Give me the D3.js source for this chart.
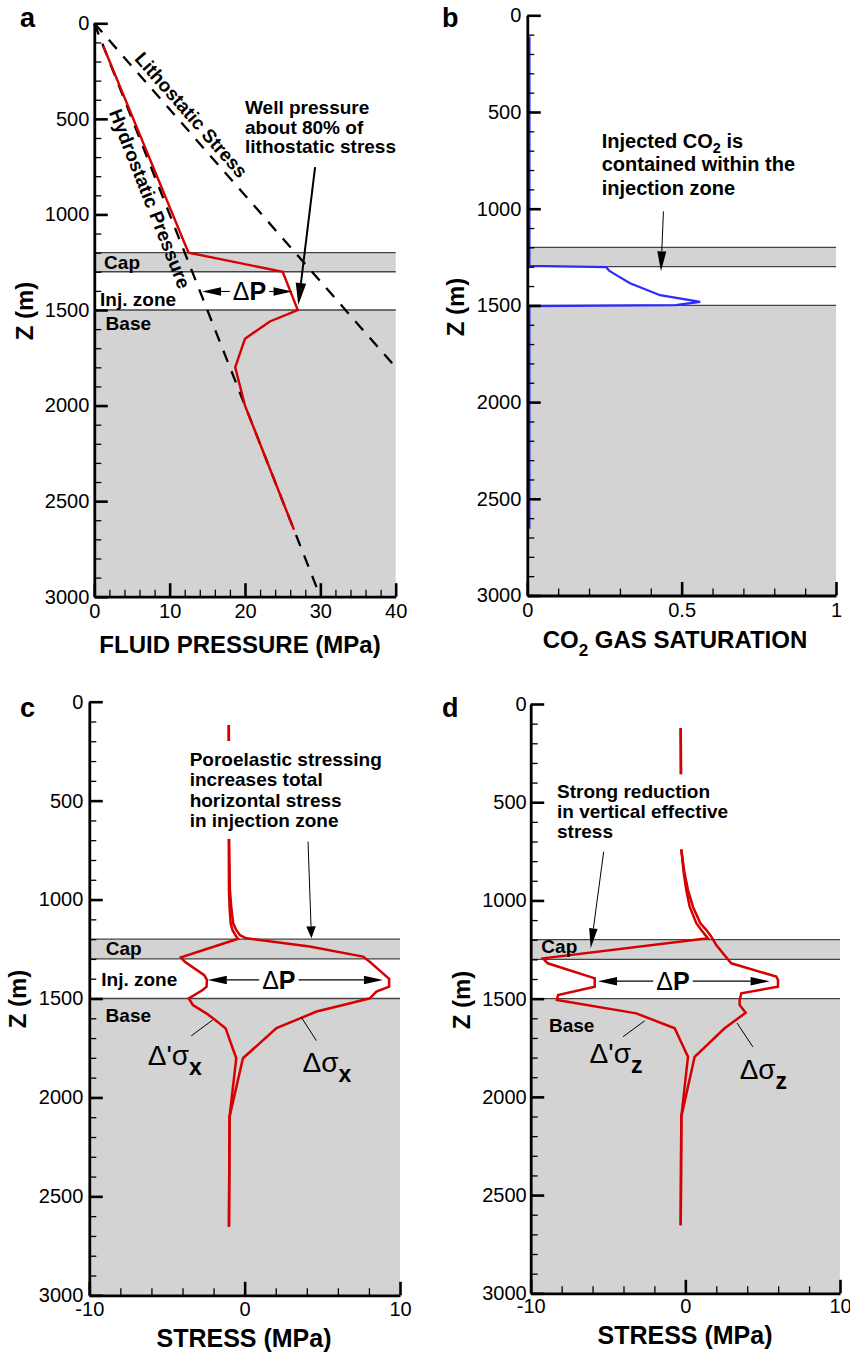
<!DOCTYPE html>
<html>
<head>
<meta charset="utf-8">
<script src="https://cdn.jsdelivr.net/npm/d3@7/dist/d3.min.js"></script>
<style>
  body { margin: 0; background: #fff; }
  svg { font-family: "Liberation Sans", Arial, Helvetica, sans-serif; }
</style>
</head>
<body>
<svg id="fig" width="850" height="1355"></svg>
<script>
// ---------------- data ----------------
var depthTicks = [0, 500, 1000, 1500, 2000, 2500, 3000];
var pressureTicks = [0, 10, 20, 30, 40];
var saturationTicks = [0, 0.5, 1];
var stressTicks = [-10, 0, 10];

// layers (m)
var capTop = 1200, capBottom = 1300, baseTop = 1500, modelBottom = 3000;

// (a) fluid pressure, MPa vs depth
var hydroZ = [0, 3000];
var hydroP = [0, 30];
var lithoZ = [0, 1800];
var lithoP = [0, 40];
var wellZ = [120, 1200, 1300, 1400, 1500, 1560, 1650, 1800, 2000, 2650];
var wellP = [1.2, 12.5, 25.0, 26.0, 27.0, 23.3, 20.0, 18.7, 20.0, 26.5];

// (b) CO2 gas saturation
var satZ = [110, 1295, 1302, 1320, 1345, 1385, 1447, 1482, 1499, 1504, 2655];
var satS = [0.007, 0.007, 0.255, 0.265, 0.29, 0.333, 0.43, 0.56, 0.48, 0.007, 0.007];

// (c) horizontal stress change, MPa
var sxEffZ = [118, 700, 950, 1040, 1120, 1155, 1185, 1198, 1292, 1315, 1382, 1406, 1440, 1457, 1499, 1533, 1575, 1600, 1650, 1802, 2097, 2653];
var sxEffV = [-1.02, -1.02, -1.01, -0.97, -0.9, -0.78, -0.55, -0.42, -4.1, -3.85, -2.6, -2.43, -2.45, -2.7, -3.6, -3.33, -2.47, -2.04, -1.23, -0.54, -0.97, -1.01];
var sxTotZ = [118, 700, 950, 1040, 1120, 1155, 1180, 1196, 1237, 1288, 1314, 1373, 1400, 1440, 1465, 1499, 1533, 1566, 1650, 1802, 2097, 2653];
var sxTotV = [-1.02, -1.0, -0.95, -0.86, -0.74, -0.53, -0.3, 0.1, 4.18, 7.62, 8.05, 8.9, 9.3, 9.3, 8.48, 8.06, 6.34, 4.63, 2.05, -0.11, -0.97, -1.01];

// (d) vertical stress change, MPa
var szEffZ = [124, 743, 862, 947, 1032, 1116, 1151, 1193, 1295, 1320, 1388, 1397, 1439, 1482, 1507, 1575, 1651, 1796, 2101, 2653];
var szEffV = [-0.3, -0.26, -0.1, 0.06, 0.28, 0.71, 1.03, 1.46, -9.2, -8.9, -6.2, -5.86, -5.86, -8.23, -8.3, -3.17, -0.69, 0.17, -0.26, -0.3];
var szTotZ = [124, 743, 862, 947, 1032, 1116, 1151, 1185, 1227, 1269, 1320, 1388, 1405, 1439, 1473, 1507, 1532, 1572, 1651, 1796, 2101, 2653];
var szTotV = [-0.3, -0.26, -0.05, 0.17, 0.49, 0.97, 1.36, 1.68, 2.0, 2.43, 2.97, 5.88, 5.99, 5.99, 3.62, 3.51, 3.51, 3.9, 2.54, 0.6, -0.26, -0.3];

// ---------------- styles ----------------
var GRAY = "#d3d3d3", RED = "#d60000", BLUE = "#2b2bff", INK = "#000";

var svg = d3.select("#fig");

function minorValues(domain, step, majors) {
  var out = [];
  for (var v = domain[0]; v <= domain[1] + 1e-9; v += step) {
    var r = Math.round(v * 1000) / 1000;
    if (!majors.some(m => Math.abs(m - r) < 1e-9)) out.push(r);
  }
  return out;
}

function makePanel(o) {
  var g = svg.append("g");
  var x = d3.scaleLinear().domain(o.xDomain).range([o.left, o.right]);
  var y = d3.scaleLinear().domain([0, modelBottom]).range([o.top, o.bottom]);

  // shaded layers
  g.append("rect").attr("x", o.left).attr("y", y(capTop))
    .attr("width", o.right - o.left).attr("height", y(capBottom) - y(capTop))
    .attr("fill", GRAY);
  g.append("rect").attr("x", o.left).attr("y", y(baseTop))
    .attr("width", o.right - o.left).attr("height", y(modelBottom) - y(baseTop))
    .attr("fill", GRAY);
  [capTop, capBottom, baseTop].forEach(function(z) {
    g.append("line").attr("x1", o.left).attr("x2", o.right)
      .attr("y1", y(z)).attr("y2", y(z))
      .attr("stroke", "#444").attr("stroke-width", 1.3);
  });
  return { g: g, x: x, y: y, o: o };
}

function drawAxes(p, xTicks, xMinorStep, xPad, yPad) {
  var o = p.o, g = p.g;
  var fmt = d => String(d);

  // minor ticks
  g.append("g").attr("transform", `translate(${o.left},0)`)
    .call(d3.axisLeft(p.y).tickValues(minorValues([0, 3000], 100, depthTicks))
      .tickSize(-7).tickSizeOuter(0).tickFormat(""))
    .call(a => a.select(".domain").remove())
    .call(a => a.selectAll("line").attr("stroke", INK).attr("stroke-width", 1.3));
  g.append("g").attr("transform", `translate(0,${o.bottom})`)
    .call(d3.axisBottom(p.x).tickValues(minorValues(o.xDomain, xMinorStep, xTicks))
      .tickSize(-7).tickSizeOuter(0).tickFormat(""))
    .call(a => a.select(".domain").remove())
    .call(a => a.selectAll("line").attr("stroke", INK).attr("stroke-width", 1.3));

  // major ticks + labels
  var yAxis = g.append("g").attr("transform", `translate(${o.left},0)`)
    .call(d3.axisLeft(p.y).tickValues(depthTicks).tickSize(-13.5).tickSizeOuter(0)
      .tickPadding(yPad).tickFormat(fmt));
  var xAxis = g.append("g").attr("transform", `translate(0,${o.bottom})`)
    .call(d3.axisBottom(p.x).tickValues(xTicks).tickSize(-13.5).tickSizeOuter(0)
      .tickPadding(xPad).tickFormat(fmt));
  [yAxis, xAxis].forEach(function(a) {
    a.select(".domain").attr("stroke", INK).attr("stroke-width", 2.8);
    a.selectAll(".tick line").attr("stroke", INK).attr("stroke-width", 2.6);
    a.selectAll("text").attr("font-size", 20).attr("fill", INK)
      .attr("font-family", "Liberation Sans, Arial, sans-serif");
  });
}

function curve(p, vals, zs, color, width, dash) {
  var line = d3.line().x(d => p.x(d[0])).y(d => p.y(d[1]));
  var path = p.g.append("path").datum(d3.zip(vals, zs)).attr("d", line)
    .attr("fill", "none").attr("stroke", color).attr("stroke-width", width)
    .attr("stroke-linejoin", "miter");
  if (dash) path.attr("stroke-dasharray", dash);
  return path;
}

function arrow(g, x1, y1, x2, y2, lw, headL, headW) {
  var ang = Math.atan2(y2 - y1, x2 - x1);
  var bx = x2 - headL * Math.cos(ang), by = y2 - headL * Math.sin(ang);
  g.append("line").attr("x1", x1).attr("y1", y1).attr("x2", bx).attr("y2", by)
    .attr("stroke", INK).attr("stroke-width", lw);
  var nx = -Math.sin(ang) * headW / 2, ny = Math.cos(ang) * headW / 2;
  g.append("path")
    .attr("d", `M${x2},${y2}L${bx + nx},${by + ny}L${bx - nx},${by - ny}Z`)
    .attr("fill", INK);
}

function note(p, lines, xv, zv, size, lineH, boxPad) {
  var t = p.g.append("text").attr("font-size", size).attr("font-weight", "bold")
    .attr("fill", INK);
  lines.forEach(function(l, i) {
    var ts = t.append("tspan").attr("x", p.x(xv)).attr("y", p.y(zv) + i * lineH);
    if (Array.isArray(l)) {
      l.forEach(function(part) {
        var s = ts.append("tspan").text(part.t);
        if (part.sub) s.attr("font-size", size * 0.72).attr("dy", size * 0.25);
        if (part.up) s.attr("dy", -size * 0.25);
      });
    } else ts.text(l);
  });
  if (boxPad != null) {
    var bb = t.node().getBBox();
    p.g.insert("rect", function() { return t.node(); })
      .attr("x", bb.x - boxPad).attr("y", bb.y - boxPad)
      .attr("width", bb.width + 2 * boxPad).attr("height", bb.height + 2 * boxPad)
      .attr("fill", "#fff");
  }
  return t;
}

function layerLabel(p, txt, xv, zv) {
  p.g.append("text").attr("x", p.x(xv)).attr("y", p.y(zv))
    .attr("font-size", 19).attr("font-weight", "bold").attr("fill", INK).text(txt);
}

function deltaP(p, zv, fromV, toV, centerV) {
  var yy = p.y(zv), cx = p.x(centerV);
  var t = p.g.append("text").attr("x", cx).attr("y", yy).attr("dy", "0.36em")
    .attr("text-anchor", "middle").attr("font-size", 25).attr("fill", INK);
  t.append("tspan").text("\u0394");
  t.append("tspan").attr("font-weight", "bold").text("P");
  var hw = t.node().getComputedTextLength() / 2 + 3;
  arrow(p.g, cx - hw, yy, p.x(fromV), yy, 1.1, 19, 8.5);
  arrow(p.g, cx + hw, yy, p.x(toV), yy, 1.1, 19, 8.5);
}

function sigmaLabel(p, sub, prime, xv, zv) {
  var t = p.g.append("text").attr("x", p.x(xv)).attr("y", p.y(zv)).attr("fill", INK);
  t.append("tspan").attr("font-size", 28).text(prime ? "\u0394'\u03c3" : "\u0394\u03c3");
  t.append("tspan").attr("font-size", 23).attr("font-weight", "bold").attr("dy", 10).text(sub);
}

function leader(p, v1, z1, v2, z2) {
  p.g.append("line").attr("x1", p.x(v1)).attr("y1", p.y(z1))
    .attr("x2", p.x(v2)).attr("y2", p.y(z2)).attr("stroke", INK).attr("stroke-width", 1);
}

function titles(cfg) {
  svg.append("text").attr("x", cfg.letter[0]).attr("y", cfg.letter[1])
    .attr("font-size", 27).attr("font-weight", "bold").text(cfg.name);
  svg.append("text").attr("transform", `translate(${cfg.yTitle[0]},${cfg.yTitle[1]}) rotate(-90)`)
    .attr("text-anchor", "middle").attr("font-size", 24).attr("font-weight", "bold").text("Z (m)");
  var t = svg.append("text").attr("x", cfg.xTitle[0]).attr("y", cfg.xTitle[1])
    .attr("text-anchor", "middle").attr("font-size", cfg.xSize || 24).attr("font-weight", "bold");
  cfg.xText.forEach(function(part) {
    var s = t.append("tspan").text(part.t);
    if (part.sub) s.attr("font-size", 17).attr("dy", 8);
    if (part.up) s.attr("dy", -8);
  });
}

// ---------------- panel a ----------------
var pa = makePanel({ xDomain: [0, 40], left: 94.3, right: 395.7, top: 23.3, bottom: 596.7 });
curve(pa, hydroP, hydroZ, INK, 2.3, "12,10");
curve(pa, lithoP, lithoZ, INK, 2.3, "12,10");
curve(pa, wellP, wellZ, RED, 2.4);

function lineLabel(p, txt, vals, zs, cv, cz) {
  var ang = Math.atan2(p.y(zs[1]) - p.y(zs[0]), p.x(vals[1]) - p.x(vals[0])) * 180 / Math.PI;
  p.g.append("text")
    .attr("transform", `translate(${p.x(cv)},${p.y(cz)}) rotate(${ang})`)
    .attr("text-anchor", "middle").attr("dy", "0.36em")
    .attr("font-size", 19).attr("font-weight", "bold").attr("fill", INK).text(txt);
}
lineLabel(pa, "Lithostatic Stress", lithoP, lithoZ, 12.9, 478);
lineLabel(pa, "Hydrostatic Pressure", hydroP, hydroZ, 7.4, 917);

note(pa, ["Well pressure", "about 80% of", "lithostatic stress"], 20.0, 475, 19, 19.6);
arrow(pa.g, pa.x(29.3), pa.y(752), pa.x(27.07), pa.y(1474), 2, 22, 10.5);
deltaP(pa, 1403, 14.3, 26.3, 20.6);
layerLabel(pa, "Cap", 1.3, 1285);
layerLabel(pa, "Inj. zone", 0.77, 1478);
layerLabel(pa, "Base", 1.5, 1605);
drawAxes(pa, pressureTicks, 2, 7, 5);
titles({ name: "a", letter: [20, 27], yTitle: [33, 311], xTitle: [240, 653],
  xText: [{ t: "FLUID PRESSURE (MPa)" }] });

// ---------------- panel b ----------------
var pb = makePanel({ xDomain: [0, 1], left: 527.3, right: 836, top: 15.3, bottom: 595.5 });
curve(pb, satS, satZ, BLUE, 2.2);
note(pb, [[{ t: "Injected CO" }, { t: "2", sub: true }, { t: " is", up: true }],
  "contained within the", "injection zone"], 0.241, 685, 20, 23.5);
arrow(pb.g, pb.x(0.441), pb.y(1014), pb.x(0.433), pb.y(1324), 1, 20, 9);
drawAxes(pb, saturationTicks, 0.1, 7, 6);
titles({ name: "b", letter: [442, 27], yTitle: [464, 307], xTitle: [675, 648],
  xText: [{ t: "CO" }, { t: "2", sub: true }, { t: " GAS SATURATION", up: true }] });

// ---------------- panel c ----------------
var pc = makePanel({ xDomain: [-10, 10], left: 89.3, right: 400, top: 701.7, bottom: 1295.3 });
curve(pc, sxEffV, sxEffZ, RED, 2.5);
curve(pc, sxTotV, sxTotZ, RED, 2.5);
note(pc, ["Poroelastic stressing", "increases total", "horizontal stress", "in injection zone"],
  -3.54, 325, 19, 20.3, 8);
arrow(pc.g, pc.x(4.08), pc.y(707), pc.x(4.3), pc.y(1196), 1, 12, 9.5);
deltaP(pc, 1406, -2.37, 8.9, 2.2);
layerLabel(pc, "Cap", -8.94, 1280);
layerLabel(pc, "Inj. zone", -9.23, 1437);
layerLabel(pc, "Base", -8.95, 1617);
leader(pc, -3.44, 1689, -2.05, 1608);
leader(pc, 4.62, 1713, 3.65, 1595);
sigmaLabel(pc, "x", true, -6.24, 1836);
sigmaLabel(pc, "x", false, 3.73, 1870);
drawAxes(pc, stressTicks, 2, 6.5, 6);
titles({ name: "c", letter: [20, 717], yTitle: [26, 999], xTitle: [244, 1347], xSize: 25,
  xText: [{ t: "STRESS (MPa)" }] });

// ---------------- panel d ----------------
var pd = makePanel({ xDomain: [-10, 10], left: 530.7, right: 840, top: 704, bottom: 1293.3 });
curve(pd, szEffV, szEffZ, RED, 2.5);
curve(pd, szTotV, szTotZ, RED, 2.5);
note(pd, ["Strong reduction", "in vertical effective", "stress"], -8.3, 480, 19, 20, 7);
arrow(pd.g, pd.x(-5.28), pd.y(752), pd.x(-6.12), pd.y(1244), 1, 20, 8.5);
deltaP(pd, 1411, -5.65, 5.45, -0.8);
layerLabel(pd, "Cap", -9.31, 1270);
layerLabel(pd, "Base", -8.82, 1672);
leader(pd, -4.03, 1694, -2.63, 1613);
leader(pd, 4.37, 1746, 3.34, 1624);
sigmaLabel(pd, "z", true, -6.19, 1826);
sigmaLabel(pd, "z", false, 3.51, 1907);
drawAxes(pd, stressTicks, 2, 5.5, 4);
titles({ name: "d", letter: [442, 717], yTitle: [470, 1000], xTitle: [685, 1344], xSize: 25,
  xText: [{ t: "STRESS (MPa)" }] });
</script>
</body>
</html>
